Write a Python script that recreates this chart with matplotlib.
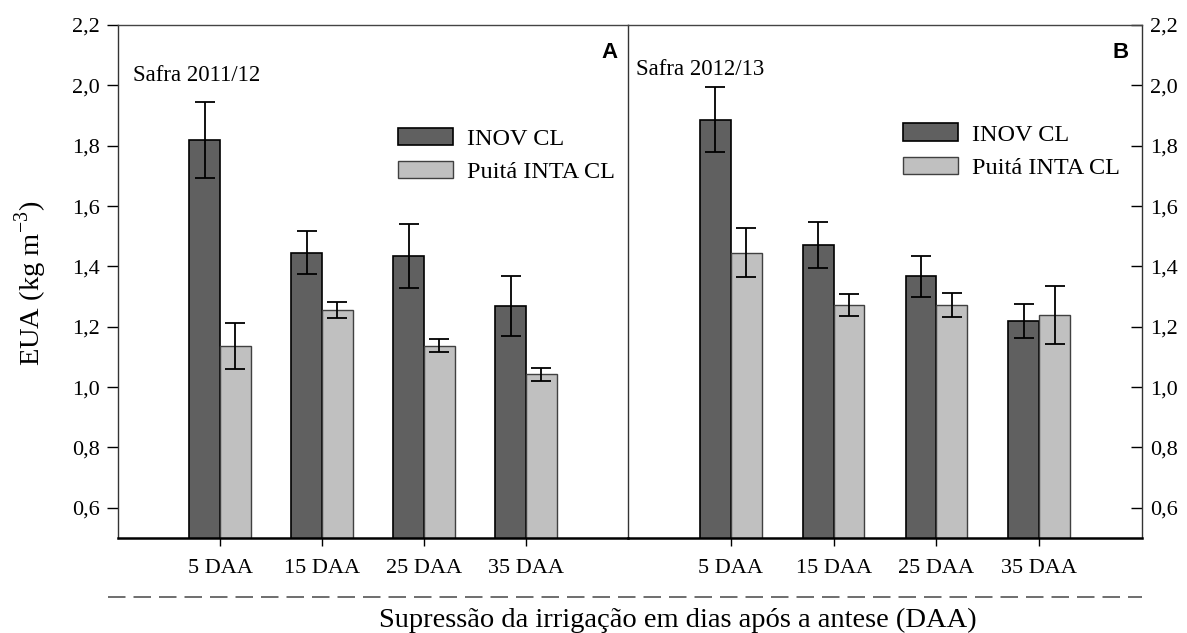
import matplotlib
matplotlib.use("Agg")
import matplotlib.pyplot as plt
from matplotlib.lines import Line2D
import numpy as np

plt.rcParams["font.family"] = ["Liberation Serif", "DejaVu Serif"]
plt.rcParams["mathtext.fontset"] = "custom"
plt.rcParams["mathtext.rm"] = "Liberation Serif"

categories = ["5 DAA", "15 DAA", "25 DAA", "35 DAA"]
series_names = ["INOV CL", "Puitá INTA CL"]

# Safra 2011/12 (panel A)
inov_a = [1.82, 1.446, 1.435, 1.268]
inov_a_err = [0.126, 0.070, 0.105, 0.100]
puita_a = [1.136, 1.256, 1.137, 1.042]
puita_a_err = [0.075, 0.026, 0.021, 0.022]

# Safra 2012/13 (panel B)
inov_b = [1.886, 1.472, 1.367, 1.219]
inov_b_err = [0.108, 0.076, 0.068, 0.056]
puita_b = [1.446, 1.272, 1.273, 1.239]
puita_b_err = [0.081, 0.036, 0.040, 0.097]

y_ticks = [0.6, 0.8, 1.0, 1.2, 1.4, 1.6, 1.8, 2.0, 2.2]

dark = "#606060"
light = "#c0c0c0"

fig = plt.figure(figsize=(11.87, 6.33), dpi=100)
W, H = 1187, 633
ax_a = fig.add_axes([118 / W, 1 - 538 / H, 510 / W, 513 / H])
ax_b = fig.add_axes([628 / W, 1 - 538 / H, 514 / W, 513 / H])
ax_b.patch.set_visible(False)

x = np.arange(1, len(categories) + 1)
width = 0.3
err_kw = dict(ecolor="black", elinewidth=1.3, capsize=7.5, capthick=1.3)


def draw_panel(ax, inov, inov_err, puita, puita_err, season, letter, side):
    b1 = ax.bar(x - width / 2, inov, width, color=dark, edgecolor="black",
                linewidth=1.2, yerr=inov_err, error_kw=err_kw, zorder=2)
    b2 = ax.bar(x + width / 2, puita, width, color=light, edgecolor="#404040",
                linewidth=1.0, yerr=puita_err, error_kw=err_kw, zorder=2)
    ax.set_xlim(0, 5)
    ax.set_ylim(0.5, 2.2)
    ax.set_yticks(y_ticks)
    ax.set_yticklabels([f"{v:.1f}".replace(".", ",") for v in y_ticks])
    ax.set_xticks(x)
    ax.set_xticklabels(categories)
    ax.tick_params(axis="x", direction="out", length=6, width=1, pad=9, labelsize=16)
    ax.spines["bottom"].set_linewidth(1.8)
    ax.spines["top"].set_linewidth(1.0)
    ax.spines["top"].set_color("#444444")
    for s in ["left", "right"]:
        ax.spines[s].set_linewidth(1.0)
        ax.spines[s].set_color("#333333")
    if side == "left":
        ax.tick_params(axis="y", direction="out", length=8, width=1, pad=5, labelsize=16)
        ax.text(0.030, 0.8915, season, transform=ax.transAxes, fontsize=16.5)
        ax.text(0.947, 0.935, letter, transform=ax.transAxes, fontsize=16,
                fontweight="bold", family="Liberation Sans", ha="left")
    else:
        ax.spines["left"].set_visible(False)
        ax.yaxis.tick_right()
        ax.tick_params(axis="y", direction="in", length=8, width=1, pad=6, labelsize=16)
        ax.text(0.016, 0.9035, season, transform=ax.transAxes, fontsize=16.5)
        ax.text(0.9425, 0.935, letter, transform=ax.transAxes, fontsize=16,
                fontweight="bold", family="Liberation Sans", ha="left")
    return b1, b2


h_a = draw_panel(ax_a, inov_a, inov_a_err, puita_a, puita_a_err, "Safra 2011/12", "A", "left")
h_b = draw_panel(ax_b, inov_b, inov_b_err, puita_b, puita_b_err, "Safra 2012/13", "B", "right")

leg_kw = dict(frameon=False, fontsize=17.5, handlelength=2.25, handleheight=0.74,
              handletextpad=0.58, labelspacing=0.45, borderpad=0, borderaxespad=0,
              loc="upper left")
ax_a.legend(h_a, series_names, bbox_to_anchor=(0.549, 0.80), **leg_kw)
ax_b.legend(h_b, series_names, bbox_to_anchor=(0.535, 0.808), **leg_kw)

fig.text(31 / W, 1 - 283 / H, r"EUA (kg m$^{\mathregular{-3}}$)", rotation=90,
         ha="center", va="center", fontsize=20.5)
fig.text(678 / W, 1 - 620 / H, "Supressão da irrigação em dias após a antese (DAA)",
         ha="center", va="center", fontsize=20.5)
fig.add_artist(Line2D([108 / W, 1142 / W], [1 - 597 / H, 1 - 597 / H],
                      transform=fig.transFigure, color="#555555", linewidth=1.2,
                      linestyle=(0, (10.5, 4.8))))

fig.savefig("out.png", dpi=100)
